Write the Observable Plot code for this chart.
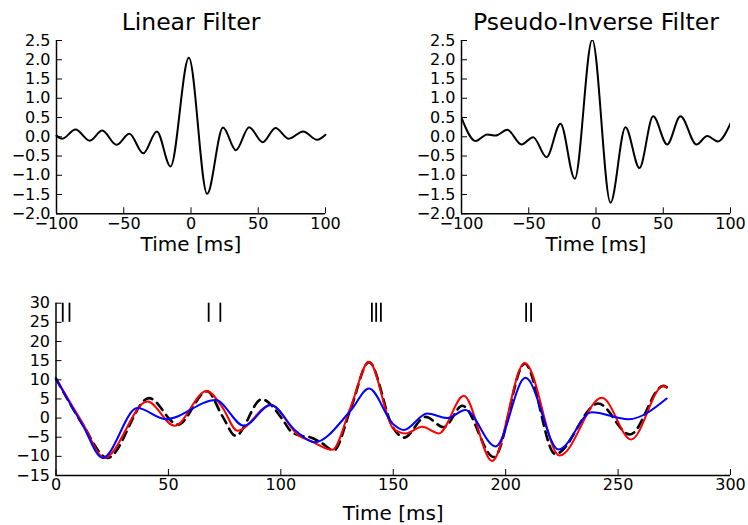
<!DOCTYPE html>
<html><head><meta charset="utf-8">
<script src="https://cdn.jsdelivr.net/npm/d3@7"></script>
<script src="https://cdn.jsdelivr.net/npm/@observablehq/plot@0.6"></script>
<style>
body{margin:0;background:#fff;}
#root{position:relative;width:748px;height:525px;background:#fff;overflow:hidden}
#root > svg{position:absolute}
</style></head><body><div id="root"></div>
<script>
// ---- Top-left: Linear Filter ----
const linFiltT = [-100, -95.8, -85.9, -75.2, -66.0, -55.4, -45.8, -35.5, -25.4, -15.2, -1.6, 12.0, 23.8, 33.4, 43.2, 53.4, 62.8, 72.7, 83.4, 93.8, 100];
const linFiltV = [0.03, -0.05, 0.19, -0.10, 0.16, -0.21, 0.08, -0.43, 0.14, -0.77, 2.05, -1.48, 0.24, -0.35, 0.25, -0.14, 0.23, -0.05, 0.14, -0.08, 0.05];
// ---- Top-right: Pseudo-Inverse Filter ----
const pinvFiltT = [-100, -89.6, -80.9, -74.7, -66.0, -55.4, -46.7, -36.8, -26.4, -15.8, -2.8, 10.8, 21.9, 32.3, 42.5, 52.9, 62.8, 74.7, 82.7, 90.6, 100];
const pinvFiltV = [0.49, -0.11, 0.06, 0.03, 0.18, -0.20, -0.01, -0.53, 0.34, -1.09, 2.52, -1.71, 0.25, -0.81, 0.53, -0.20, 0.53, -0.20, 0.02, -0.12, 0.35];
// ---- Bottom: stimulus (black dashed) ----
const stimT = [0, 11.8, 22.9, 41.4, 54.2, 67.2, 74, 79.9, 91.5, 100.7, 104.2, 108, 113, 117.6, 123.6, 131, 139.2, 150, 154.7, 164.4, 172.5, 180.7, 194.8, 208.5, 222.1, 241.2, 255.3, 270.1, 271.6];
const stimV = [10.3, -1.6, -10.4, 5.2, -1.7, 7.0, 0.5, -4.6, 4.9, -0.3, -3.3, -4.5, -5.0, -6.3, -8.4, 2.3, 14.6, -2.6, -5.1, 0.3, -2.4, 3.2, -10.2, 14.2, -9.4, 3.8, -4.3, 8.4, 8.1];
// ---- Bottom: pseudo-inverse reconstruction (red) ----
const redT = [0, 12, 21.4, 40.7, 52.7, 67, 74, 80.7, 95.5, 108, 113.3, 122.9, 131, 139.2, 150, 155.5, 162.9, 170.3, 181.4, 194, 208.5, 224, 242.8, 255.8, 270.1, 271.6];
const redV = [10.3, -1.5, -10.4, 4.3, -2.0, 7.1, 2.8, -3.3, 3.4, -4.6, -6.0, -8.3, 2.8, 14.7, -2.7, -4.0, -2.3, -4.0, 5.8, -11.2, 14.4, -9.8, 5.3, -5.6, 8.4, 7.9];
// ---- Bottom: linear reconstruction (blue) ----
const blueT = [0, 12, 20.7, 36.2, 48.8, 71, 83.6, 95.5, 106.6, 115, 131, 139.2, 150, 154.7, 165.1, 174, 182.1, 195.5, 208.8, 223.6, 238.3, 254.6, 271.6];
const blueV = [10.3, -2.0, -10.4, 2.6, -0.3, 4.7, -2.0, 3.4, -3.3, -6.3, 1.9, 7.7, -1.6, -3.1, 1.2, 0.0, 2.1, -7.4, 10.5, -8.2, 1.5, -0.3, 5.1];
// ---- Spike raster ----
const spikeT = [3, 6, 67.9, 73.1, 140.5, 142.4, 144.5, 209.1, 211.3];
const spikeLo = 25, spikeHi = 30;
// ---- Axes ----
const filtXTicks = [-100, -50, 0, 50, 100];
const filtYTicks = [-2.0, -1.5, -1.0, -0.5, 0.0, 0.5, 1.0, 1.5, 2.0, 2.5];
const botXTicks = [0, 50, 100, 150, 200, 250, 300];
const botYTicks = [-15, -10, -5, 0, 5, 10, 15, 20, 25, 30];
const titles = ["Linear Filter", "Pseudo-Inverse Filter"];
const xLabel = "Time [ms]";

const FONT = "'DejaVu Sans', sans-serif";
const M = "\u2212";
const fmt0 = d => (d < 0 ? M : "") + Math.abs(d);
const fmt1 = d => (d < 0 ? M : "") + Math.abs(d).toFixed(1);
const pts = (T, V) => T.map((t, i) => ({t, v: V[i]}));

function panel({xDomain, yDomain, xTicks, yTicks, xFmt, yFmt, left, top, width, height, ml, mr, mt, mb, marks, title, labelDy}) {
  const innerW = width - ml - mr, innerH = height - mt - mb;
  const TL = 6;
  const svg = Plot.plot({
    width, height, marginLeft: ml, marginRight: mr, marginTop: mt, marginBottom: mb,
    x: {domain: xDomain}, y: {domain: yDomain},
    style: {fontFamily: FONT, fontSize: "16px", color: "#000", background: "transparent", overflow: "visible"},
    marks: [
      ...marks,
      Plot.ruleX([xDomain[0]], {x: d => d, stroke: "#000", strokeWidth: 1.5}),
      Plot.ruleY([yDomain[0]], {y: d => d, stroke: "#000", strokeWidth: 1.5}),
      Plot.tickX(xTicks, {x: d => d, insetTop: innerH - TL, stroke: "#000", strokeWidth: 1}),
      Plot.tickY(yTicks, {y: d => d, insetRight: innerW - TL, stroke: "#000", strokeWidth: 1}),
      Plot.axisX(xTicks, {tickSize: 0, tickPadding: 3.5, tickFormat: xFmt, label: null, fill: "#000", fontSize: 16}),
      Plot.axisY(yTicks, {tickSize: 0, tickPadding: 6, tickFormat: yFmt, label: null, fill: "#000", fontSize: 16}),
      title ? Plot.text([title], {text: d => d, frameAnchor: "top", dy: -11, lineAnchor: "bottom", fontSize: 23.5, fill: "#000"}) : null,
      Plot.text([xLabel], {text: d => d, frameAnchor: "bottom", dy: labelDy, lineAnchor: "bottom", fontSize: 20, fill: "#000"})
    ]
  });
  svg.style.left = left + "px";
  svg.style.top = top + "px";
  document.getElementById("root").appendChild(svg);
}

panel({
  xDomain: [-100, 100], yDomain: [-2, 2.5], xTicks: filtXTicks, yTicks: filtYTicks, xFmt: fmt0, yFmt: fmt1,
  left: 0, top: 0, width: 340, height: 260, ml: 56, mr: 15, mt: 40, mb: 46.7, title: titles[0], labelDy: 37.5,
  marks: [Plot.line(pts(linFiltT, linFiltV), {x: "t", y: "v", curve: "monotone-x", stroke: "#000", strokeWidth: 2})]
});
panel({
  xDomain: [-100, 100], yDomain: [-2, 2.5], xTicks: filtXTicks, yTicks: filtYTicks, xFmt: fmt0, yFmt: fmt1,
  left: 380, top: 0, width: 368, height: 260, ml: 81, mr: 18, mt: 40, mb: 46.7, title: titles[1], labelDy: 37.5,
  marks: [Plot.line(pts(pinvFiltT, pinvFiltV), {x: "t", y: "v", curve: "monotone-x", stroke: "#000", strokeWidth: 2, clip: true})]
});
panel({
  xDomain: [0, 300], yDomain: [-15, 30], xTicks: botXTicks, yTicks: botYTicks, xFmt: fmt0, yFmt: fmt0,
  left: 0, top: 280, width: 748, height: 245, ml: 55.5, mr: 18, mt: 22.7, mb: 50, title: null, labelDy: 44,
  marks: [
    Plot.ruleX(spikeT, {x: d => d, y1: spikeLo, y2: spikeHi, stroke: "#000", strokeWidth: 1.8}),
    Plot.line(pts(stimT, stimV), {x: "t", y: "v", curve: "monotone-x", stroke: "#000", strokeWidth: 2.6, strokeDasharray: "9,6"}),
    Plot.line(pts(redT, redV), {x: "t", y: "v", curve: "monotone-x", stroke: "#ff0000", strokeWidth: 2}),
    Plot.line(pts(blueT, blueV), {x: "t", y: "v", curve: "monotone-x", stroke: "#0000ff", strokeWidth: 2})
  ]
});
</script></body></html>
